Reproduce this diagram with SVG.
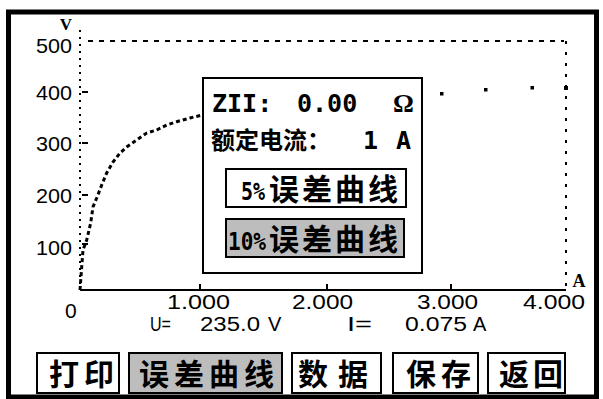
<svg xmlns="http://www.w3.org/2000/svg" width="603" height="399" viewBox="0 0 603 399">
<style>
.num{font-family:"Liberation Sans",Arial,sans-serif;font-size:20px;fill:#000}
.ynum{font-family:"Liberation Sans",Arial,sans-serif;font-size:21px;fill:#000}
.bmono{font-family:"DejaVu Sans Mono","Liberation Mono",monospace;font-weight:bold;fill:#000}
.cjk{font-family:"Noto Sans CJK SC",sans-serif;font-weight:bold;fill:#000}
.btn{fill:#fff;stroke:#000;stroke-width:2}
.btn.sel{fill:#bdbdbd}
.curve{fill:none;stroke:#000;stroke-width:3;stroke-dasharray:4 3}
</style>
<rect x="0" y="0" width="603" height="399" fill="#fff"/>
<rect x="8.5" y="12" width="588" height="385" fill="#fff" stroke="#000" stroke-width="5"/>

<g id="chart">
  <line x1="80" y1="30" x2="80" y2="290" stroke="#000" stroke-width="2" stroke-dasharray="2 5"/>
  <line x1="88" y1="41" x2="564" y2="41" stroke="#000" stroke-width="2" stroke-dasharray="5 6"/>
  <line x1="566" y1="41" x2="566" y2="290" stroke="#000" stroke-width="2" stroke-dasharray="3 8"/>
  <line x1="80" y1="290" x2="566" y2="290" stroke="#000" stroke-width="2"/>
  <g stroke="#000" stroke-width="2">
    <line x1="82" y1="92" x2="88" y2="92"/>
    <line x1="82" y1="143" x2="88" y2="143"/>
    <line x1="82" y1="195" x2="88" y2="195"/>
    <line x1="82" y1="244" x2="88" y2="244"/>
    <line x1="200" y1="284" x2="200" y2="290"/>
    <line x1="327" y1="284" x2="327" y2="290"/>
    <line x1="451" y1="284" x2="451" y2="290"/>
  </g>
  <text x="36" y="53" class="ynum" textLength="36" lengthAdjust="spacingAndGlyphs">500</text>
  <text x="36" y="100" class="ynum" textLength="36" lengthAdjust="spacingAndGlyphs">400</text>
  <text x="36" y="151" class="ynum" textLength="36" lengthAdjust="spacingAndGlyphs">300</text>
  <text x="36" y="203" class="ynum" textLength="36" lengthAdjust="spacingAndGlyphs">200</text>
  <text x="36" y="255" class="ynum" textLength="36" lengthAdjust="spacingAndGlyphs">100</text>
  <text x="65" y="318" class="ynum">0</text>
  <text x="167" y="309" class="num" textLength="63" lengthAdjust="spacingAndGlyphs">1.000</text>
  <text x="292" y="309" class="num" textLength="61" lengthAdjust="spacingAndGlyphs">2.000</text>
  <text x="417" y="309" class="num" textLength="61" lengthAdjust="spacingAndGlyphs">3.000</text>
  <text x="523" y="309" class="num" textLength="62" lengthAdjust="spacingAndGlyphs">4.000</text>
  <text x="66" y="30" font-family="Liberation Serif,serif" font-weight="bold" font-size="17" text-anchor="middle">V</text>
  <text x="579" y="287" font-family="Liberation Serif,serif" font-weight="bold" font-size="18" text-anchor="middle">A</text>
  <text x="150" y="331" class="num" textLength="21" lengthAdjust="spacingAndGlyphs">U=</text>
  <text x="200" y="331" class="num" textLength="60" lengthAdjust="spacingAndGlyphs">235.0</text>
  <text x="268" y="331" class="num">V</text>
  <text x="347" y="331" class="num" textLength="25" lengthAdjust="spacingAndGlyphs">I=</text>
  <text x="405" y="331" class="num" textLength="62" lengthAdjust="spacingAndGlyphs">0.075</text>
  <text x="473" y="331" class="num">A</text>
</g>

<g id="curve">
  <path class="curve" d="M80,290 L81.7,267 L83,250 L86.7,240 L90.7,223 L93,207 L96.7,198 L101.7,185 L106.7,173 L113,162 L120,153 L126.7,147 L136.7,140 L146.7,133 L156.7,130 L166.7,125 L176.7,121.7 L190,118 L202,115"/>
  <g fill="#000">
    <rect x="440" y="92" width="3.5" height="3.5"/>
    <rect x="484" y="88" width="3.5" height="3.5"/>
    <rect x="530.5" y="86" width="3.5" height="3.5"/>
    <rect x="564" y="86" width="4" height="4"/>
  </g>
</g>

<g id="panel">
  <rect x="203" y="78" width="219" height="195" fill="#fff" stroke="#000" stroke-width="2"/>
  <text y="112" class="bmono" font-size="25"><tspan x="212">ZII:</tspan><tspan x="297">0.00</tspan></text>
  <text x="393" y="112" font-family="Liberation Serif,serif" font-weight="bold" font-size="26">Ω</text>
  <text y="149"><tspan x="211" class="cjk" font-size="24">额定电流：</tspan><tspan x="363" class="bmono" font-size="25">1</tspan><tspan x="396" class="bmono" font-size="25">A</tspan></text>
</g>

<g id="btn-5pct">
  <rect class="btn" x="226" y="169" width="180" height="38"/>
  <text x="241" y="200" class="bmono" font-size="24" textLength="24" lengthAdjust="spacingAndGlyphs">5%</text>
  <text x="269" y="200" class="cjk" font-size="30" letter-spacing="3">误差曲线</text>
</g>
<g id="btn-10pct">
  <rect class="btn sel" x="226" y="219" width="178" height="38"/>
  <text x="228" y="250" class="bmono" font-size="24" textLength="38" lengthAdjust="spacingAndGlyphs">10%</text>
  <text x="269" y="250" class="cjk" font-size="30" letter-spacing="3">误差曲线</text>
</g>

<g id="btn-print">
  <rect class="btn" x="37" y="353" width="82" height="40"/>
  <text x="49" y="385" class="cjk" font-size="30" letter-spacing="5">打印</text>
</g>
<g id="btn-curve">
  <rect class="btn sel" x="129" y="353" width="153" height="40"/>
  <text x="139" y="385" class="cjk" font-size="30" letter-spacing="5">误差曲线</text>
</g>
<g id="btn-data">
  <rect class="btn" x="292" y="353" width="89" height="40"/>
  <text x="298" y="385" class="cjk" font-size="30" letter-spacing="10">数据</text>
</g>
<g id="btn-save">
  <rect class="btn" x="393" y="353" width="85" height="40"/>
  <text x="406" y="385" class="cjk" font-size="30" letter-spacing="5">保存</text>
</g>
<g id="btn-back">
  <rect class="btn" x="488" y="353" width="77" height="40"/>
  <text x="499" y="385" class="cjk" font-size="30" letter-spacing="4">返回</text>
</g>
<g id="connectors"/>
</svg>
